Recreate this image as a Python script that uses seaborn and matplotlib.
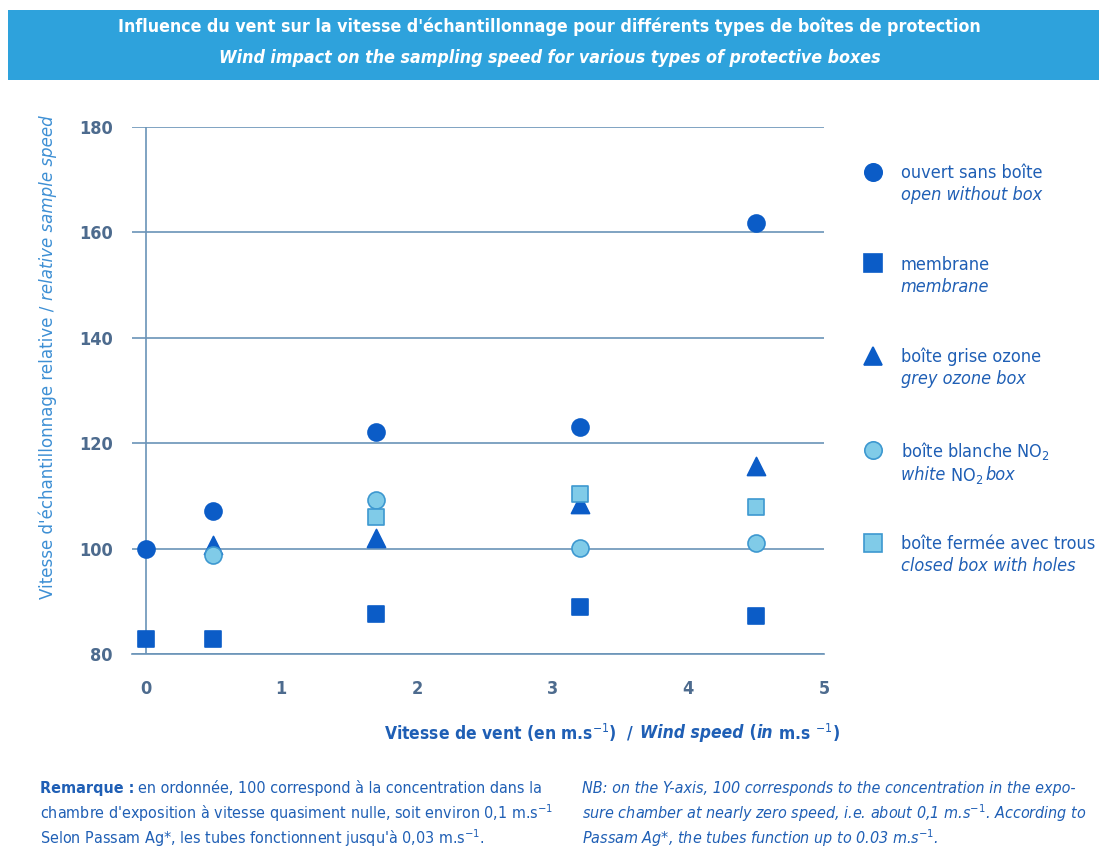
import matplotlib
matplotlib.use("Agg")
import matplotlib.pyplot as plt
import seaborn as sns
import pandas as pd
from matplotlib.patches import Rectangle

# ---------------- data ----------------
series_fr = ["ouvert sans boîte", "membrane", "boîte grise ozone",
             "boîte blanche NO$_2$", "boîte fermée avec trous"]
# second (English) legend lines, as (text, italic) runs
series_en = [
    [("open without box", True)],
    [("membrane", True)],
    [("grey ozone box", True)],
    [("white ", True), ("NO$_2$ ", False), ("box", True)],
    [("closed box with holes", True)],
]

open_x = [0, 0.5, 1.7, 3.2, 4.5]
open_y = [100, 107.2, 122.2, 123.0, 161.8]
membrane_x = [0, 0.5, 1.7, 3.2, 4.5]
membrane_y = [82.8, 82.8, 87.5, 89.0, 87.3]
grey_x = [0.5, 1.7, 3.2, 4.5]
grey_y = [100.6, 102.0, 108.5, 115.6]
white_x = [0.5, 1.7, 3.2, 4.5]
white_y = [98.8, 109.2, 100.2, 101.0]
closed_x = [1.7, 3.2, 4.5]
closed_y = [106.0, 110.4, 107.9]

x_ticks = [0, 1, 2, 3, 4, 5]
y_ticks = [80, 100, 120, 140, 160, 180]

# ---------------- style ----------------
sns.set_theme(style="white")
plt.rcParams["font.family"] = ["DejaVu Sans"]
plt.rcParams["font.stretch"] = "condensed"
plt.rcParams["mathtext.fontset"] = "dejavusans"

DARK = "#0b5cc7"
LIGHT = "#80cbe8"
LIGHT_EDGE = "#3d98d0"
GRID = "#6a93b8"
TEXT = "#1f5fb5"
TICK = "#4d6b8e"
YLAB = "#3d8fd4"
W, H = 1099, 868


def fx(px):
    return px / W


def fy(py):
    return (H - py) / H


fig = plt.figure(figsize=(10.99, 8.68), dpi=100)
fig.canvas.draw()
renderer = fig.canvas.get_renderer()
inv = fig.transFigure.inverted()


def runs_text(x, y, runs, ha="left", va="center", **kw):
    """Place a sequence of (text, italic) runs side by side (figure coords)."""
    texts = []
    cur = x
    for s, it in runs:
        t = fig.text(cur, y, s, ha="left", va=va,
                     style="italic" if it else "normal", **kw)
        bb = t.get_window_extent(renderer)
        cur += bb.width / W
        texts.append(t)
    total = cur - x
    shift = {"left": 0, "right": total, "center": total / 2}[ha]
    for t in texts:
        px, py = t.get_position()
        t.set_position((px - shift, py))
    return texts


def runs_text_vertical(x, ycenter, runs, **kw):
    """Rotated (90 deg) runs stacked upward, centred on ycenter."""
    texts = []
    cur = 0.0
    for s, it in runs:
        t = fig.text(x, ycenter + cur, s, ha="left", va="center", rotation=90,
                     rotation_mode="anchor", style="italic" if it else "normal", **kw)
        bb = t.get_window_extent(renderer)
        cur += bb.height / H
        texts.append(t)
    for t in texts:
        px, py = t.get_position()
        t.set_position((px, py - cur / 2))
    return texts


# banner
fig.patches.append(Rectangle((fx(8), fy(80)), 1 - fx(8), 70 / H,
                             transform=fig.transFigure, facecolor="#2ea2dc",
                             edgecolor="none", zorder=0))
fig.text(0.5, fy(27),
         "Influence du vent sur la vitesse d'échantillonnage pour différents types de boîtes de protection",
         ha="center", va="center", color="white", fontsize=12.8, fontweight="bold")
fig.text(0.5, fy(58),
         "Wind impact on the sampling speed for various types of protective boxes",
         ha="center", va="center", color="white", fontsize=12.8, fontweight="bold", style="italic")

ax = fig.add_axes([fx(132), fy(654), 692 / W, 527 / H])

specs = [
    (open_x, open_y, "o", DARK, DARK, 150),
    (membrane_x, membrane_y, "s", DARK, DARK, 120),
    (grey_x, grey_y, "^", DARK, DARK, 170),
    (white_x, white_y, "o", LIGHT, LIGHT_EDGE, 150),
    (closed_x, closed_y, "s", LIGHT, LIGHT_EDGE, 120),
]
handles = []
for (xs, ys, m, fc, ec, s), fr in zip(specs, series_fr):
    df = pd.DataFrame({"x": xs, "y": ys})
    sns.scatterplot(data=df, x="x", y="y", marker=m, color=fc, edgecolor=ec,
                    linewidth=1.2, s=s, ax=ax, zorder=5, clip_on=False)
    handles.append(plt.Line2D([], [], linestyle="none", marker=m, markersize=12.5,
                              markerfacecolor=fc, markeredgecolor=ec,
                              markeredgewidth=1.2, label=fr))

ax.set_xlim(-0.1, 5.0)
ax.set_ylim(80, 180)
ax.set_xticks(x_ticks)
ax.set_yticks(y_ticks)
ax.grid(axis="y", color=GRID, linewidth=1.2)
ax.grid(axis="x", visible=False)
ax.axvline(0, color=GRID, linewidth=1.2, zorder=2)
for sp in ["left", "right", "top"]:
    ax.spines[sp].set_visible(False)
ax.spines["bottom"].set_color(GRID)
ax.spines["bottom"].set_linewidth(1.2)
ax.tick_params(axis="x", direction="out", length=7, width=1.2, color=GRID,
               labelsize=13, labelcolor=TICK, pad=12)
ax.tick_params(axis="y", length=0, labelsize=13, labelcolor=TICK, pad=14)
for lab in ax.get_xticklabels() + ax.get_yticklabels():
    lab.set_fontweight("bold")
ax.set_xlabel("")
ax.set_ylabel("")

# x label (mixed styles)
runs_text(fx(840), fy(733),
          [("Vitesse de vent (en m.s$^{-1}$)  /  ", False), ("Wind speed", True),
           (" (", False), ("in", True), (" m.s $^{-1}$)", False)],
          ha="right", color=TEXT, fontsize=12.5, fontweight="bold")

# y label (rotated, mixed styles)
runs_text_vertical(fx(48), fy(357),
                   [("Vitesse d'échantillonnage relative / ", False),
                    ("relative sample speed", True)],
                   color=YLAB, fontsize=13.3)

leg = fig.legend(handles=handles, loc="upper left",
                 bbox_to_anchor=(fx(853), fy(155)),
                 frameon=False, fontsize=13, labelspacing=4.08,
                 handletextpad=0.95, handlelength=1.2, borderpad=0)
for t in leg.get_texts():
    t.set_color(TEXT)

fig.canvas.draw()
for t, en in zip(leg.get_texts(), series_en):
    bb = t.get_window_extent(renderer)
    x0, y0 = inv.transform((bb.x0, bb.y0))
    runs_text(x0, y0 - 4 / H, en, va="top", color=TEXT, fontsize=13)

# notes
NFS = 11.5
r = fig.text(fx(40), fy(788), "Remarque :", ha="left", va="center",
             color=TEXT, fontsize=NFS, fontweight="bold")
bb = r.get_window_extent(renderer)
xr = inv.transform((bb.x1, bb.y0))[0]
fig.text(xr + 4 / W, fy(788),
         "en ordonnée, 100 correspond à la concentration dans la",
         ha="left", va="center", color=TEXT, fontsize=NFS)
fig.text(fx(40), fy(813),
         r"chambre d'exposition à vitesse quasiment nulle, soit environ 0,1 m.s$^{-1}$",
         ha="left", va="center", color=TEXT, fontsize=NFS)
fig.text(fx(40), fy(838),
         r"Selon Passam Ag*, les tubes fonctionnent jusqu'à 0,03 m.s$^{-1}$.",
         ha="left", va="center", color=TEXT, fontsize=NFS)
fig.text(fx(582), fy(788),
         "NB: on the Y-axis, 100 corresponds to the concentration in the expo-",
         ha="left", va="center", color=TEXT, fontsize=NFS, style="italic")
fig.text(fx(582), fy(813),
         r"sure chamber at nearly zero speed, i.e. about 0,1 m.s$^{-1}$. According to",
         ha="left", va="center", color=TEXT, fontsize=NFS, style="italic")
fig.text(fx(582), fy(838),
         r"Passam Ag*, the tubes function up to 0.03 m.s$^{-1}$.",
         ha="left", va="center", color=TEXT, fontsize=NFS, style="italic")

fig.savefig("out.png", dpi=100)
